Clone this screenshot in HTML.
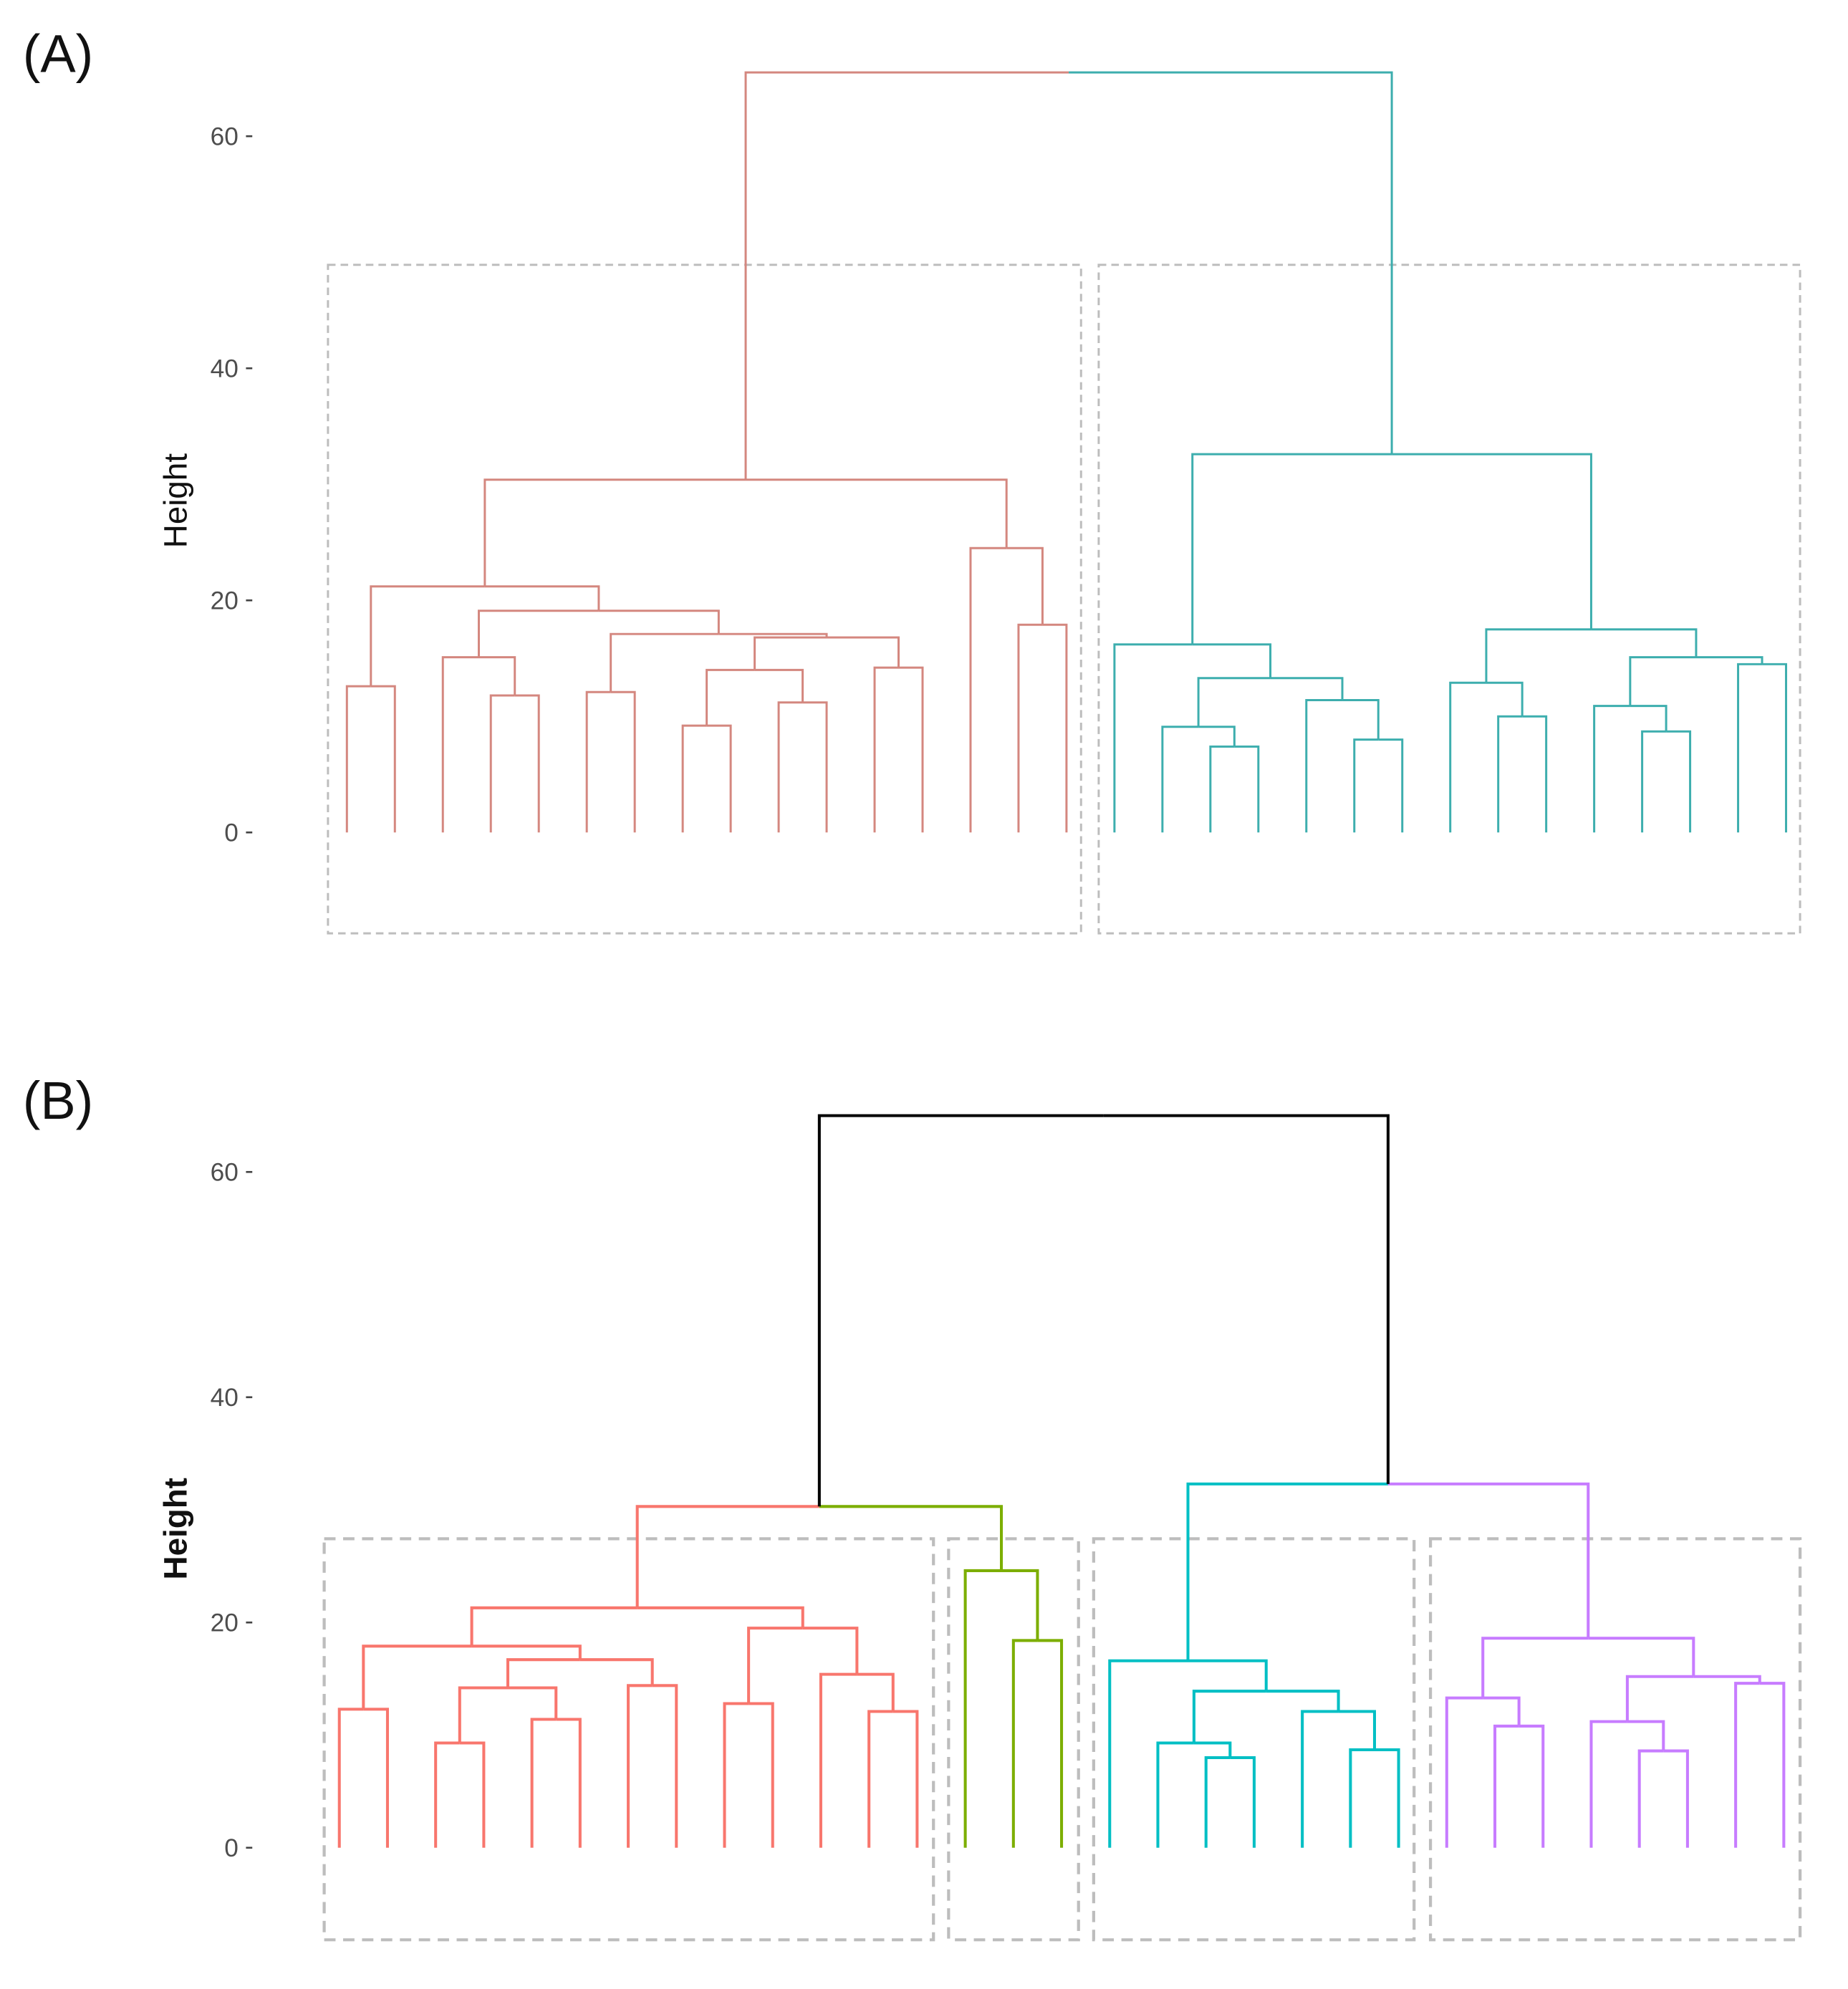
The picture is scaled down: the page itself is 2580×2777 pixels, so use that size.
<!DOCTYPE html>
<html><head><meta charset="utf-8"><style>
html,body{margin:0;padding:0;background:#fff;}
svg{display:block;}
</style></head><body>
<svg id="fig" width="2580" height="2777" viewBox="0 0 1465 1577" preserveAspectRatio="none" xmlns="http://www.w3.org/2000/svg" font-family="Liberation Sans, sans-serif">
<rect width="1465" height="1577" fill="#fff"/>
<text x="18" y="57" font-size="42" fill="#111">(A)</text>
<text x="18" y="887" font-size="42" fill="#111">(B)</text>
<text transform="translate(148,397) rotate(-90)" text-anchor="middle" font-size="26" fill="#111">Height</text>
<text transform="translate(148,1212) rotate(-90)" text-anchor="middle" font-size="26" font-weight="bold" fill="#111">Height</text>
<g id="boxes"></g>
<g id="axes"></g>
<g id="treeA"></g>
<g id="treeB"></g>
</svg>
<script>
const tickValues = [0, 20, 40, 60];
// Panel A merges (negative = leaf index+1, positive = merge number)
const mergeLeftA  = [-1,-4,-3,-6,-8,-10,5,-12,7,4,3,1,-15,-14,12,-19,-18,-22,-21,17,-17,-25,-24,-28,-27,-30,25,23,21,15];
const mergeRightA = [-2,-5,2,-7,-9,-11,6,-13,8,9,10,11,-16,13,14,-20,16,-23,18,19,20,-26,22,-29,24,-31,26,27,28,29];
const heightA     = [12.6,11.8,15.1,12.1,9.2,11.2,14.0,14.2,16.8,17.1,19.1,21.2,17.9,24.5,30.4,7.4,9.1,8.0,11.4,13.3,16.2,10.0,12.9,8.7,10.9,14.5,15.1,17.5,32.6,65.5];
// Panel B merges
const mergeLeftB  = [-1,-3,-5,2,-7,4,1,-9,-12,-11,8,7,-15,-14,12,-19,-18,-22,-21,17,-17,-25,-24,-28,-27,-30,25,23,21,15];
const mergeRightB = [-2,-4,-6,3,-8,5,6,-10,-13,9,10,11,-16,13,14,-20,16,-23,18,19,20,-26,22,-29,24,-31,26,27,28,29];
const heightB     = [12.3,9.3,11.4,14.2,14.4,16.7,17.9,12.8,12.1,15.4,19.5,21.3,18.4,24.6,30.3,8.0,9.3,8.7,12.1,13.9,16.6,10.8,13.3,8.6,11.2,14.6,15.2,18.6,32.3,65.0];

const NS = 'http://www.w3.org/2000/svg';
function mk(tag, attrs, parent){const e=document.createElementNS(NS,tag);for(const k in attrs)e.setAttribute(k,attrs[k]);parent.appendChild(e);return e;}

const R='#D4877F', T='#3DAEAE';
const colLA=[], colRA=[];
for(let i=0;i<30;i++){const c=i<15?R:T;colLA.push(c);colRA.push(c);}
colLA[29]=R; colRA[29]=T;
const RB='#F8766D', GB='#7CAE00', CB='#00BFC4', PB='#C77CFF';
const colLB=[], colRB=[];
for(let i=0;i<30;i++){let c=i<12?RB:(i<14?GB:(i<21?CB:PB));colLB.push(c);colRB.push(c);}
colLB[14]=RB; colRB[14]=GB; colLB[28]=CB; colRB[28]=PB; colLB[29]='#000'; colRB[29]='#000';

function drawTree(g, L, Rr, H, cL, cR, x0, dx, y0, unit, sw){
  const xs=[], hs=[];
  const xOf=i=>i<0?x0+(-i-1)*dx:xs[i-1];
  const hOf=i=>i<0?0:hs[i-1];
  const yOf=h=>y0-h*unit;
  for(let m=0;m<L.length;m++){
    const xa=xOf(L[m]), xb=xOf(Rr[m]), h=H[m];
    const xm=(xa+xb)/2, y=yOf(h);
    xs.push(xm); hs.push(h);
    const p1=mk('path',{d:`M${xa},${yOf(hOf(L[m]))}V${y}H${xm}`,fill:'none',stroke:cL[m],'stroke-width':sw},g);
    
    
    const p2=mk('path',{d:`M${xm},${y}H${xb}V${yOf(hOf(Rr[m]))}`,fill:'none',stroke:cR[m],'stroke-width':sw},g);
    
    
  }
}

function drawAxis(y0, unit, key){
  const g=document.getElementById('axes');
  tickValues.forEach(v=>{
    const y=y0-v*unit;
    const t=mk('line',{x1:195,x2:200,y1:y,y2:y,stroke:'#444','stroke-width':1.5},g);
    
    
    const tx=mk('text',{x:189,y:y+7,'text-anchor':'end','font-size':20,fill:'#4d4d4d'},g);
    tx.textContent=v;
    
    
  });
}

function drawBox(x1,y1,x2,y2,sw,dash,name){
  const r=mk('rect',{x:x1,y:y1,width:x2-x1,height:y2-y1,fill:'none',stroke:'#bdbdbd','stroke-width':sw,'stroke-dasharray':dash},document.getElementById('boxes'));
  
  
}
drawBox(260,210,857,740,1.7,'6 4','cluster-box-a1');
drawBox(871,210,1427,740,1.7,'6 4','cluster-box-a2');
drawBox(257,1220,740,1538,2.4,'9 6','cluster-box-b1');
drawBox(752,1220,855,1538,2.4,'9 6','cluster-box-b2');
drawBox(867,1220,1121,1538,2.4,'9 6','cluster-box-b3');
drawBox(1134,1220,1427,1538,2.4,'9 6','cluster-box-b4');

drawAxis(660, 9.2, 'a');
drawAxis(1465, 8.93, 'b');
drawTree(document.getElementById('treeA'), mergeLeftA, mergeRightA, heightA, colLA, colRA, 275, 38.03, 660, 9.2, 1.7);
drawTree(document.getElementById('treeB'), mergeLeftB, mergeRightB, heightB, colLB, colRB, 269, 38.17, 1465, 8.93, 2.3);
</script>
</body></html>
